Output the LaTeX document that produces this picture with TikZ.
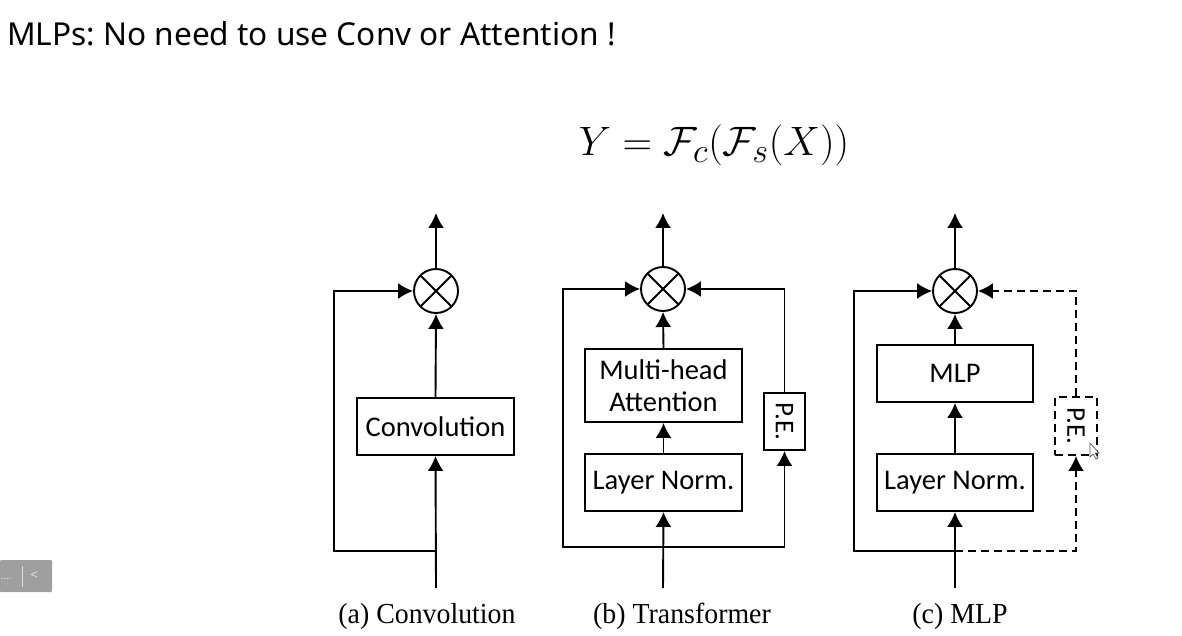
\documentclass[tikz,border=0pt]{standalone}
\usepackage{fontspec}
\usepackage{amsmath}
\usetikzlibrary{arrows.meta,calc}
\newfontfamily\titlefont{Noto Sans}
\newfontfamily\boxfont{Carlito}
\newfontfamily\capfont{Liberation Serif}
\frenchspacing
\tikzset{
  ln/.style={line width=1.9pt},
  arr/.style={ln,-{Latex[length=15pt,width=16pt]}},
  blk/.style={draw,ln,inner sep=0pt,font=\boxfont\fontsize{28.5}{33}\selectfont,align=center},
  otimes/.style={draw,ln,circle,minimum size=44pt,inner sep=0pt,
    path picture={\draw[ln] (path picture bounding box.north west)--(path picture bounding box.south east)
      (path picture bounding box.north east)--(path picture bounding box.south west);}},
  pebox/.style={draw,ln,inner sep=0pt,minimum width=41pt,minimum height=57pt,
    font=\boxfont\fontsize{27}{28}\selectfont},
  captxt/.style={font=\capfont\fontsize{29}{32}\selectfont,anchor=base,xscale=0.96,inner sep=0pt},
  dsh/.style={dash pattern=on 8pt off 5pt},
}
\begin{document}
\begin{tikzpicture}[x=1pt,y=-1pt]
\useasboundingbox[fill=white] (0,0) rectangle (1182,636);

% title and formula
\node[anchor=base west,inner sep=0pt,font=\titlefont\fontsize{31.6}{36}\selectfont] (title) at (7,46) {MLPs: No need to use Conv or Attention !};
\node[anchor=base,inner sep=0pt,font=\Huge,scale=1.65] (eq) at (714,156) {$Y=\mathcal{F}_c(\mathcal{F}_s(X))$};

% ---------- (a) Convolution
\node[otimes] (xa) at (436,291) {};
\node[blk,minimum width=157pt,minimum height=57pt] (conv) at (435.5,426.5) {Convolution};
\coordinate (ina) at (436,588);
\coordinate (fa) at (436,551);
\coordinate (ca) at (334,551);
\coordinate (topa) at (436,213);
\draw[arr] (ina) -- (conv.south);
\draw[arr] (conv.north) -- (xa.south);
\draw[arr] (xa.north) -- (topa);
\draw[arr] (fa) -- (ca) |- (xa.west);

% ---------- (b) Transformer
\node[otimes] (xb) at (663,289) {};
\node[blk,minimum width=157pt,minimum height=73pt] (mha) at (663.5,385.5) {Multi-head\\[-1pt]Attention};
\node[blk,minimum width=157pt,minimum height=57pt] (lnb) at (663.5,482.5) {Layer Norm.};
\node[pebox] (peb) at (784.5,421.5) {\rotatebox{-90}{P.E.}};
\coordinate (inb) at (663,588);
\coordinate (fb) at (663,547);
\coordinate (cb) at (563,547);
\coordinate (topb) at (663,213);
\draw[arr] (inb) -- (lnb.south);
\draw[arr] (lnb.north) -- (mha.south);
\draw[arr] (mha.north) -- (xb.south);
\draw[arr] (xb.north) -- (topb);
\draw[arr] (fb) -- (cb) |- (xb.west);
\draw[arr] (fb) -| (peb.south);
\draw[arr] (peb.north) |- (xb.east);

% ---------- (c) MLP
\node[otimes] (xc) at (955,291) {};
\node[blk,minimum width=156pt,minimum height=57pt] (mlp) at (955,373.5) {MLP};
\node[blk,minimum width=156pt,minimum height=57pt] (lnc) at (955,482.5) {Layer Norm.};
\node[pebox,dsh,minimum width=42pt,minimum height=58pt] (pec) at (1076,426) {\rotatebox{-90}{P.E.}};
\coordinate (inc) at (955,588);
\coordinate (fc) at (955,551);
\coordinate (cc) at (854,551);
\coordinate (topc) at (955,213);
\draw[arr] (inc) -- (lnc.south);
\draw[arr] (lnc.north) -- (mlp.south);
\draw[arr] (mlp.north) -- (xc.south);
\draw[arr] (xc.north) -- (topc);
\draw[arr] (fc) -- (cc) |- (xc.west);
\draw[arr,dsh] (fc) -| (pec.south);
\draw[arr,dsh] (pec.north) |- (xc.east);

% captions
\node[captxt] (capa) at (427,623) {(a) Convolution};
\node[captxt] (capb) at (682,623) {(b) Transformer};
\node[captxt] (capc) at (960,623) {(c) MLP};

% UI overlay widget
\fill[gray!75,rounded corners=1pt] (0,560) rectangle (52,592);
\node[text=white!80!gray,font=\titlefont\fontsize{10}{10}\selectfont,inner sep=0pt] (dots) at (6,579) {....};
\draw[white!75!gray,line width=0.8pt] (22,566) -- (22,587);
\node[text=white!80!gray,font=\titlefont\fontsize{13}{13}\selectfont,inner sep=0pt] (lt) at (34,576) {<};

% mouse cursor
\draw[gray!70!black,fill=white,line width=0.7pt,line join=round]
  (1090,443) -- (1090,457) -- (1093,454) -- (1096,459) -- (1098,458) -- (1095,453) -- (1099,453) -- cycle;
\end{tikzpicture}
\end{document}
